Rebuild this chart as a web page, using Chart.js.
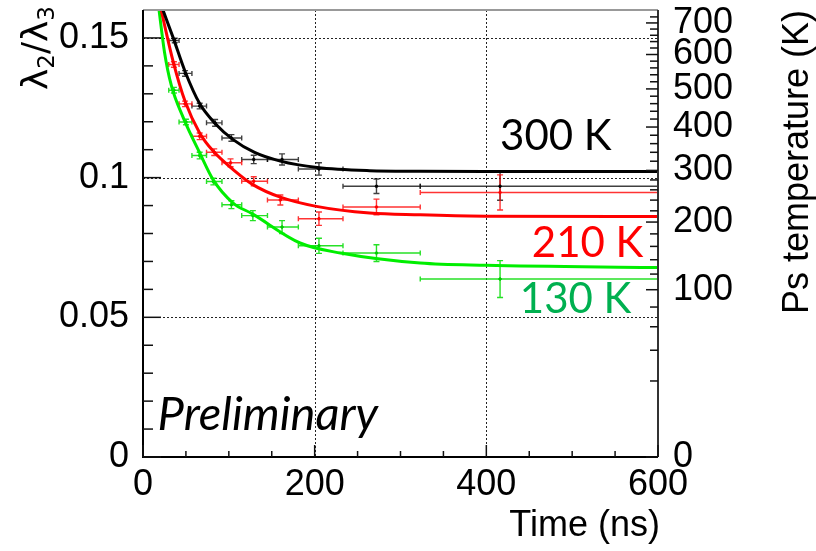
<!DOCTYPE html>
<html>
<head>
<meta charset="utf-8">
<script src="https://cdn.jsdelivr.net/npm/chart.js@4.4.0/dist/chart.umd.min.js"></script>
<style>
  html, body { margin: 0; padding: 0; background: #fff; }
  #wrap { width: 816px; height: 551px; }
</style>
</head>
<body>
<div id="wrap"><canvas id="chart"></canvas></div>
<script>
// time bins (ns), shared by the three temperatures
const binLo = [30, 42, 57, 74, 92, 115, 145, 181, 233, 323];
const binHi = [42, 57, 74, 92, 115, 145, 181, 233, 323, 600];

// measured ratio lambda2/lambda3
const blackT = [37, 49, 66, 84, 103, 129, 162, 205, 272, 416];
const blackR = [0.1491, 0.1373, 0.1256, 0.1196, 0.1142, 0.1065, 0.1065, 0.1031, 0.0969, 0.0969];
const blackE = [0.0008, 0.0010, 0.0010, 0.0012, 0.0012, 0.0015, 0.0020, 0.0022, 0.0026, 0.0050];

const redT = [36, 49, 66, 83, 102, 129, 160, 205, 272, 416];
const redR = [0.1405, 0.1264, 0.1148, 0.1091, 0.1053, 0.0987, 0.0920, 0.0853, 0.0895, 0.0947];
const redE = [0.0010, 0.0010, 0.0012, 0.0012, 0.0014, 0.0016, 0.0018, 0.0024, 0.0028, 0.0063];

const greenT = [36, 50, 66, 82, 103, 128, 162, 205, 272, 416];
const greenR = [0.1313, 0.1199, 0.1079, 0.0986, 0.0903, 0.0864, 0.0823, 0.0756, 0.0730, 0.0637];
const greenE = [0.0010, 0.0010, 0.0012, 0.0012, 0.0014, 0.0018, 0.0023, 0.0027, 0.0030, 0.0066];

// fitted curves
const blackFitT = [23, 35, 49, 66, 84, 105, 130, 160, 203, 264, 323, 400, 600];
const blackFitR = [0.1602, 0.1502, 0.1380, 0.1265, 0.1194, 0.1136, 0.1090, 0.1059, 0.1036, 0.1025, 0.1023, 0.1022, 0.1022];
const redFitT = [21, 35, 49, 66, 82, 105, 128, 160, 202, 264, 323, 400, 600];
const redFitR = [0.1602, 0.1417, 0.1273, 0.1160, 0.1094, 0.1029, 0.0975, 0.0930, 0.0897, 0.0873, 0.0867, 0.0862, 0.0861];
const greenFitT = [18.6, 25, 33, 47, 66, 82, 105, 127, 183, 230, 323, 400, 600];
const greenFitR = [0.1602, 0.1450, 0.1330, 0.1214, 0.1089, 0.0991, 0.0909, 0.0871, 0.0766, 0.0730, 0.0694, 0.0686, 0.0678];

// axes
const xLabels = [0, 200, 400, 600];
const xMinor = [50, 100, 150, 250, 300, 350, 450, 500, 550];
const yLabels = [0, 0.05, 0.1, 0.15];
const yMinor = [0.01, 0.02, 0.03, 0.04, 0.06, 0.07, 0.08, 0.09, 0.11, 0.12, 0.13, 0.14];
const tempLabels = [0, 100, 200, 300, 400, 500, 600, 700];
const tempMinor = [20, 40, 60, 80, 120, 140, 160, 180, 220, 240, 260, 280, 320, 340, 360, 380,
  420, 440, 460, 480, 520, 540, 560, 580, 620, 640, 660, 680, 720];
// right axis scale: ratio = k * T^p
const ratioK = 0.00627;
const ratioP = 0.49;
const tempToRatio = T => ratioK * Math.pow(T, ratioP);

const toPts = (xs, ys) => xs.map((x, i) => ({ x, y: ys[i] }));

const series = [
  { t: blackT, r: blackR, e: blackE, bar: 'rgba(0,0,0,0.75)' },
  { t: redT, r: redR, e: redE, bar: 'rgba(255,0,0,0.8)' },
  { t: greenT, r: greenR, e: greenE, bar: 'rgba(0,220,0,0.85)' }
];

const notes = [
  { text: '300 K', t: 481, r: 0.1147, color: '#000000' },
  { text: '210 K', t: 518, r: 0.0763, color: '#ff0000' },
  { text: '130 K', t: 504, r: 0.0563, color: '#00b050' }
];

const axisFont = '"Liberation Sans", Arial, sans-serif';

const rootStyle = {
  id: 'rootStyle',
  beforeDatasetsDraw(chart) {
    const { ctx, chartArea: a, scales: { x, y } } = chart;
    ctx.save();
    // dotted grid
    ctx.strokeStyle = '#222';
    ctx.lineWidth = 1;
    ctx.setLineDash([2, 2]);
    [200, 400].forEach(v => {
      const px = Math.round(x.getPixelForValue(v)) + 0.5;
      ctx.beginPath(); ctx.moveTo(px, a.top); ctx.lineTo(px, a.bottom); ctx.stroke();
    });
    [0.05, 0.1, 0.15].forEach(v => {
      const py = Math.round(y.getPixelForValue(v)) + 0.5;
      ctx.beginPath(); ctx.moveTo(a.left, py); ctx.lineTo(a.right, py); ctx.stroke();
    });
    ctx.setLineDash([]);
    // error bars
    ctx.save();
    ctx.beginPath(); ctx.rect(a.left, a.top, a.right - a.left, a.bottom - a.top); ctx.clip();
    ctx.lineWidth = 1.4;
    series.forEach(s => {
      ctx.strokeStyle = s.bar;
      s.t.forEach((t, i) => {
        const px = x.getPixelForValue(t);
        const py = y.getPixelForValue(s.r[i]);
        const x1 = x.getPixelForValue(binLo[i]), x2 = x.getPixelForValue(binHi[i]);
        const y1 = y.getPixelForValue(s.r[i] + s.e[i]), y2 = y.getPixelForValue(s.r[i] - s.e[i]);
        ctx.beginPath();
        ctx.moveTo(x1, py); ctx.lineTo(x2, py);
        ctx.moveTo(x1, py - 2.5); ctx.lineTo(x1, py + 2.5);
        ctx.moveTo(x2, py - 2.5); ctx.lineTo(x2, py + 2.5);
        ctx.moveTo(px, y1); ctx.lineTo(px, y2);
        ctx.moveTo(px - 3, y1); ctx.lineTo(px + 3, y1);
        ctx.moveTo(px - 3, y2); ctx.lineTo(px + 3, y2);
        ctx.stroke();
      });
    });
    ctx.restore();
    ctx.restore();
  },
  afterDraw(chart) {
    const { ctx, chartArea: a, scales: { x, y } } = chart;
    ctx.save();
    // frame
    ctx.lineWidth = 2;
    ctx.strokeStyle = '#999';
    ctx.beginPath(); ctx.moveTo(a.left, a.top); ctx.lineTo(a.right, a.top); ctx.stroke();
    ctx.strokeStyle = '#000';
    ctx.beginPath(); ctx.moveTo(a.left, a.top); ctx.lineTo(a.left, a.bottom); ctx.lineTo(a.right, a.bottom); ctx.stroke();
    ctx.strokeStyle = '#333';
    ctx.beginPath(); ctx.moveTo(a.right, a.top); ctx.lineTo(a.right, a.bottom); ctx.stroke();
    // tick marks, pointing into the frame
    ctx.lineWidth = 1.5;
    ctx.strokeStyle = '#111';
    const tick = (x1, y1, x2, y2) => { ctx.beginPath(); ctx.moveTo(x1, y1); ctx.lineTo(x2, y2); ctx.stroke(); };
    yLabels.forEach(v => { const p = y.getPixelForValue(v); tick(a.left, p, a.left + 18, p); });
    yMinor.forEach(v => { const p = y.getPixelForValue(v); tick(a.left, p, a.left + 10, p); });
    xLabels.forEach(v => { const p = x.getPixelForValue(v); tick(p, a.bottom, p, a.bottom - 12); });
    xMinor.forEach(v => { const p = x.getPixelForValue(v); tick(p, a.bottom, p, a.bottom - 6); });
    tempLabels.forEach(T => { const p = y.getPixelForValue(tempToRatio(T)); tick(a.right, p, a.right - 12, p); });
    tempMinor.forEach(T => { const p = y.getPixelForValue(tempToRatio(T)); tick(a.right, p, a.right - 8, p); });

    // annotations
    ctx.textBaseline = 'middle';
    ctx.textAlign = 'center';
    ctx.font = '42px Lato, "Open Sans", sans-serif';
    notes.forEach(n => {
      ctx.fillStyle = n.color;
      ctx.fillText(n.text, x.getPixelForValue(n.t), y.getPixelForValue(n.r));
    });
    ctx.textAlign = 'left';
    ctx.fillStyle = '#000';
    ctx.font = 'italic 47px Lato, "Open Sans", sans-serif';
    ctx.fillText('Preliminary', x.getPixelForValue(17), y.getPixelForValue(0.0151));

    // axis titles
    ctx.font = '36px ' + axisFont;
    ctx.textAlign = 'right';
    ctx.textBaseline = 'alphabetic';
    ctx.fillText('Time (ns)', a.right + 2, 536);

    ctx.save();
    ctx.translate(808, a.top);
    ctx.rotate(-Math.PI / 2);
    ctx.textAlign = 'right';
    ctx.fillText('Ps temperature (K)', 0, 0);
    ctx.restore();

    // lambda2/lambda3, drawn piece by piece so the indices sit low
    ctx.save();
    ctx.translate(47, 90);
    ctx.rotate(-Math.PI / 2);
    ctx.textAlign = 'left';
    const parts = [['\u03bb', 36, 0], ['2', 23, 7], ['/', 36, 0], ['\u03bb', 36, 0], ['3', 23, 7]];
    let cx = 0;
    parts.forEach(([s, size, dy]) => {
      ctx.font = size + 'px "DejaVu Sans", sans-serif';
      ctx.fillText(s, cx, dy);
      cx += ctx.measureText(s).width;
    });
    ctx.restore();
    ctx.restore();
  }
};

const fitLine = (xs, ys, color) => ({
  data: toPts(xs, ys),
  showLine: true,
  borderColor: color,
  borderWidth: 3,
  pointRadius: 0,
  cubicInterpolationMode: 'monotone',
  order: 1
});
const markers = (xs, ys, color) => ({
  data: toPts(xs, ys),
  showLine: false,
  pointRadius: 1.3,
  pointBackgroundColor: color,
  pointBorderColor: color,
  order: 2
});

// keep the frame where the reference has it, whatever the label overhang
const noPadY = s => { s.paddingTop = 0; s.paddingBottom = 0; };

new Chart(document.getElementById('chart'), {
  type: 'scatter',
  data: {
    datasets: [
      fitLine(blackFitT, blackFitR, '#000000'),
      fitLine(redFitT, redFitR, '#ff0000'),
      fitLine(greenFitT, greenFitR, '#00ee00'),
      markers(blackT, blackR, '#000000'),
      markers(redT, redR, '#ff0000'),
      markers(greenT, greenR, '#00cc00')
    ]
  },
  options: {
    responsive: true,
    maintainAspectRatio: false,
    animation: false,
    devicePixelRatio: 1,
    layout: { padding: { top: 10, left: 0, right: 0, bottom: 0 } },
    plugins: { legend: { display: false }, tooltip: { enabled: false } },
    scales: {
      x: {
        type: 'linear', min: 0, max: 600,
        grid: { display: false }, border: { display: false },
        afterBuildTicks: s => { s.ticks = xLabels.map(v => ({ value: v })); },
        afterFit: s => { s.height = 94; s.paddingLeft = 0; s.paddingRight = 0; },
        ticks: { color: '#000', padding: -2, maxRotation: 0, font: { family: axisFont, size: 36 } }
      },
      y: {
        type: 'linear', min: 0, max: 0.16, position: 'left',
        grid: { display: false }, border: { display: false },
        afterBuildTicks: s => { s.ticks = yLabels.map(v => ({ value: v })); },
        afterFit: s => { s.width = 143; noPadY(s); },
        ticks: { color: '#000', padding: 6, font: { family: axisFont, size: 36 }, callback: v => String(v) }
      },
      y2: {
        type: 'linear', min: 0, max: 0.16, position: 'right',
        grid: { display: false }, border: { display: false },
        afterBuildTicks: s => { s.ticks = tempLabels.map(T => ({ value: tempToRatio(T) })); },
        afterFit: s => { s.width = 158; noPadY(s); },
        ticks: {
          color: '#000', padding: 7, font: { family: axisFont, size: 36 },
          callback: (v, i) => String(tempLabels[i])
        }
      }
    }
  },
  plugins: [rootStyle]
});
</script>
</body>
</html>
